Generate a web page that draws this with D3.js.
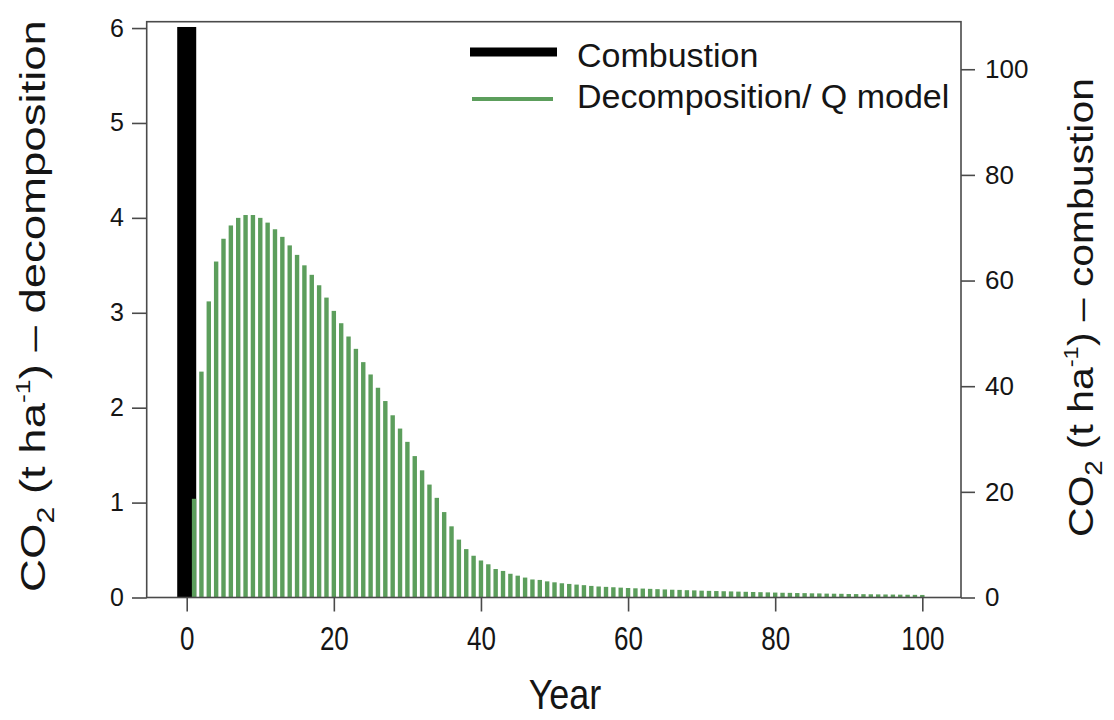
<!DOCTYPE html>
<html>
<head>
<meta charset="utf-8">
<script src="https://cdn.jsdelivr.net/npm/d3@7"></script>
<style>
  body { margin: 0; background: #fff; }
  svg { display: block; }
  text { font-family: "Liberation Sans", Arial, Helvetica, sans-serif; fill: #151515; }
</style>
</head>
<body>
<svg id="chart" width="1114" height="720"></svg>
<script>
// Annual CO2 release after a stand is removed: one-off combustion pulse (right axis)
// versus decomposition of the residues under the Q model (left axis).
const decompYears = d3.range(1, 101);
const decompValues = [
  1.04, 2.38, 3.12, 3.54, 3.78, 3.92, 4.00, 4.03, 4.03, 4.00,
  3.95, 3.88, 3.80, 3.71, 3.61, 3.50, 3.40, 3.29, 3.16, 3.02,
  2.89, 2.75, 2.62, 2.48, 2.35, 2.21, 2.07, 1.92, 1.78, 1.64,
  1.49, 1.34, 1.19, 1.05, 0.90, 0.75, 0.61, 0.51, 0.44, 0.39,
  0.35, 0.30, 0.28, 0.25, 0.23, 0.21, 0.19, 0.185, 0.17, 0.16,
  0.15, 0.143, 0.136, 0.13, 0.122, 0.116, 0.112, 0.108, 0.104, 0.100,
  0.097, 0.094, 0.091, 0.088, 0.085, 0.082, 0.080, 0.077, 0.075, 0.072,
  0.070, 0.068, 0.066, 0.064, 0.062, 0.060, 0.058, 0.056, 0.054, 0.052,
  0.050, 0.049, 0.047, 0.046, 0.044, 0.043, 0.041, 0.040, 0.039, 0.037,
  0.036, 0.035, 0.034, 0.033, 0.032, 0.031, 0.030, 0.029, 0.028, 0.027
];
const combustionYears = [0];
const combustionValues = [108];

const xTicks = [0, 20, 40, 60, 80, 100];
const leftTicks = [0, 1, 2, 3, 4, 5, 6];
const rightTicks = [0, 20, 40, 60, 80, 100];
const legendLabels = ["Combustion", "Decomposition/ Q model"];

const decompData = decompYears.map((yr, i) => ({ year: yr, value: decompValues[i] }));
const combData = combustionYears.map((yr, i) => ({ year: yr, value: combustionValues[i] }));

// plot frame
const box = { left: 146.7, right: 961, top: 21.7, bottom: 597.5 };
const axisColor = "#4a4a4a";
const green = "#5c9e5c";

const svg = d3.select("#chart");

const x = d3.scaleLinear().domain([-5.44, 105.26]).range([box.left, box.right]);
const yLeft = d3.scaleLinear().domain([0, 6.067]).range([box.bottom, box.top]);
const yRight = d3.scaleLinear().domain([0, 109]).range([box.bottom, box.top]);

const combWidth = 19;
const decompWidth = 4.4;

// combustion pulse
svg.append("g").selectAll("rect").data(combData).join("rect")
  .attr("x", d => x(d.year) - combWidth / 2)
  .attr("width", combWidth)
  .attr("y", d => yRight(d.value))
  .attr("height", d => yRight(0) - yRight(d.value))
  .attr("fill", "#000");

// decomposition bars
svg.append("g").selectAll("rect").data(decompData).join("rect")
  .attr("x", d => x(d.year) - decompWidth / 2)
  .attr("width", decompWidth)
  .attr("y", d => yLeft(d.value))
  .attr("height", d => yLeft(0) - yLeft(d.value))
  .attr("fill", green);

// frame
svg.append("rect")
  .attr("x", box.left).attr("y", box.top)
  .attr("width", box.right - box.left).attr("height", box.bottom - box.top)
  .attr("fill", "none").attr("stroke", axisColor).attr("stroke-width", 1.6);

function styleAxis(g) {
  g.select(".domain").remove();
  g.selectAll(".tick line").attr("stroke", axisColor).attr("stroke-width", 1.6);
  g.selectAll(".tick text").attr("fill", "#151515");
}

// bottom axis
const gx = svg.append("g")
  .attr("transform", `translate(0,${box.bottom})`)
  .call(d3.axisBottom(x).tickValues(xTicks).tickFormat(d3.format("d")).tickSize(14).tickSizeOuter(0))
  .call(styleAxis);
gx.selectAll(".tick text")
  .attr("font-size", 26)
  .attr("y", 0).attr("dy", null)
  .attr("transform", "translate(0,52) scale(1,1.3)");

// left axis
const gl = svg.append("g")
  .attr("transform", `translate(${box.left},0)`)
  .call(d3.axisLeft(yLeft).tickValues(leftTicks).tickFormat(d3.format("d")).tickSize(14.7).tickPadding(8).tickSizeOuter(0))
  .call(styleAxis);
gl.selectAll(".tick text").attr("font-size", 25);

// right axis
const gr = svg.append("g")
  .attr("transform", `translate(${box.right},0)`)
  .call(d3.axisRight(yRight).tickValues(rightTicks).tickFormat(d3.format("d")).tickSize(14).tickPadding(10).tickSizeOuter(0))
  .call(styleAxis);
gr.selectAll(".tick text").attr("font-size", 26);

// x title
svg.append("text")
  .attr("text-anchor", "middle")
  .attr("font-size", 36)
  .attr("transform", "translate(565,709) scale(1,1.2)")
  .text("Year");

// rotated CO2 titles, stretched along their reading direction to the given span
function co2Title(cy, baseX, tail, span) {
  const t = svg.append("text")
    .attr("text-anchor", "middle")
    .attr("font-size", 36);
  t.append("tspan").text("CO");
  t.append("tspan").attr("font-size", 24).attr("dy", 9).text("2");
  t.append("tspan").attr("dy", -9).text(" (t ha");
  t.append("tspan").attr("font-size", 21).attr("dy", -15).text("-1");
  t.append("tspan").attr("dy", 15).text(") \u2013 " + tail);
  const w = t.node().getBBox().width;
  const s = span / w;
  t.attr("transform", `translate(${baseX},${cy}) rotate(-90) scale(${s},1)`);
  return t;
}
co2Title(306, 45, "decomposition", 572);
co2Title(307.5, 1093, "combustion", 459);

// legend
const legend = svg.append("g");
legend.append("line")
  .attr("x1", 470).attr("x2", 557).attr("y1", 52).attr("y2", 52)
  .attr("stroke", "#000").attr("stroke-width", 9);
legend.append("line")
  .attr("x1", 472).attr("x2", 553).attr("y1", 99).attr("y2", 99)
  .attr("stroke", green).attr("stroke-width", 4);
legend.append("text").attr("x", 577).attr("y", 66.5).attr("font-size", 34).text(legendLabels[0]);
legend.append("text").attr("x", 577).attr("y", 108).attr("font-size", 34).text(legendLabels[1]);
</script>
</body>
</html>
